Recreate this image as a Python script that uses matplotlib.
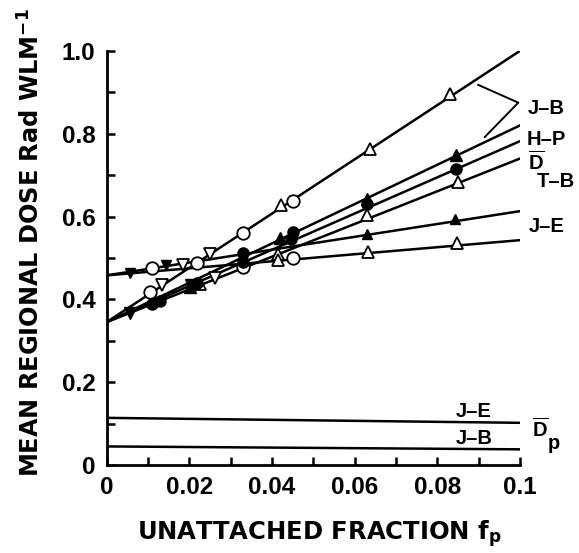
import numpy as np
import matplotlib
matplotlib.use("Agg")
from matplotlib import pyplot as plt

plt.rcParams['font.family'] = ['Liberation Sans', 'DejaVu Sans']
plt.rcParams['font.weight'] = 'bold'
plt.rcParams['mathtext.fontset'] = 'custom'
plt.rcParams['mathtext.rm'] = 'Liberation Sans:bold'
plt.rcParams['mathtext.bf'] = 'Liberation Sans:bold'
plt.rcParams['mathtext.it'] = 'Liberation Sans:bold'

# fitted lines: value at fp=0 and fp=0.1
line_names = ['J-B', 'H-P', 'mid', 'DT-B', 'J-E filled', 'J-E open']
line_y0 = [0.345, 0.345, 0.345, 0.345, 0.458, 0.458]
line_y1 = [1.0, 0.82, 0.782, 0.74, 0.613, 0.543]

# D_p lines (J-E, J-B)
dp_y0 = [0.114, 0.045]
dp_y1 = [0.102, 0.038]

# measured points
jb_circ_x = [0.0105, 0.033, 0.045]
jb_circ_y = [0.418, 0.561, 0.638]
jb_tri_x = [0.0423, 0.0637, 0.0832]
jb_tri_y = [0.627, 0.764, 0.897]
jb_inv_x = [0.0133, 0.025]
jb_inv_y = [0.434, 0.509]

hp_tri_x = [0.0202, 0.042, 0.0629, 0.0845]
hp_tri_y = [0.43, 0.548, 0.643, 0.748]
hp_inv_x = [0.0057, 0.0205]
hp_inv_y = [0.367, 0.435]

mid_circ_x = [0.0109, 0.013, 0.022, 0.033, 0.0445, 0.0452, 0.063, 0.0845]
mid_circ_y = [0.39, 0.397, 0.44, 0.49, 0.545, 0.563, 0.631, 0.716]

tb_tri_x = [0.0225, 0.0415, 0.0629, 0.0851]
tb_tri_y = [0.437, 0.51, 0.603, 0.684]
tb_inv_x = [0.0262]
tb_inv_y = [0.452]

je_ftri_x = [0.0629, 0.0843]
je_ftri_y = [0.557, 0.593]
je_finv_x = [0.0057, 0.0145]
je_finv_y = [0.464, 0.483]
je_fcirc_x = [0.033]
je_fcirc_y = [0.512]

je_otri_x = [0.0415, 0.0633, 0.0847]
je_otri_y = [0.494, 0.514, 0.535]
je_ocirc_x = [0.011, 0.0218, 0.033, 0.045]
je_ocirc_y = [0.476, 0.488, 0.478, 0.499]
je_oinv_x = [0.0185]
je_oinv_y = [0.482]

fig = plt.figure(figsize=(5.79, 5.53), dpi=100)
ax = fig.add_axes([0.184, 0.159, 0.714, 0.749])

for y0, y1 in zip(line_y0, line_y1):
    ax.plot([0, 0.1], [y0, y1], color='black', lw=1.8, zorder=2)
for y0, y1 in zip(dp_y0, dp_y1):
    ax.plot([0, 0.1], [y0, y1], color='black', lw=1.8, zorder=2)

ms = 8
def open_pts(x, y, m, s=ms):
    ax.plot(x, y, ls='none', marker=m, ms=s, mfc='white', mec='black', mew=1.3, zorder=3)
def fill_pts(x, y, m, s=ms):
    ax.plot(x, y, ls='none', marker=m, ms=s, mfc='black', mec='black', mew=1.0, zorder=4)

open_pts(jb_circ_x, jb_circ_y, 'o', 9)
open_pts(jb_tri_x, jb_tri_y, '^')
open_pts(jb_inv_x, jb_inv_y, 'v')
fill_pts(hp_tri_x, hp_tri_y, '^')
fill_pts(hp_inv_x, hp_inv_y, 'v')
fill_pts(mid_circ_x, mid_circ_y, 'o', 8)
open_pts(tb_tri_x, tb_tri_y, '^')
open_pts(tb_inv_x, tb_inv_y, 'v')
fill_pts(je_ftri_x, je_ftri_y, '^', 7)
fill_pts(je_finv_x, je_finv_y, 'v', 7)
fill_pts(je_fcirc_x, je_fcirc_y, 'o', 8)
open_pts(je_otri_x, je_otri_y, '^')
open_pts(je_ocirc_x, je_ocirc_y, 'o', 9)
open_pts(je_oinv_x, je_oinv_y, 'v')

ax.set_xlim(0, 0.1)
ax.set_ylim(0, 1.0)
for s in ['top', 'right']:
    ax.spines[s].set_visible(False)
for s in ['left', 'bottom']:
    ax.spines[s].set_linewidth(2.0)

ax.set_xticks(np.arange(0, 0.1001, 0.01))
ax.set_xticklabels(['0', '', '0.02', '', '0.04', '', '0.06', '', '0.08', '', '0.1'])
ax.set_yticks(np.arange(0, 1.001, 0.1))
ax.set_yticklabels(['0', '', '0.2', '', '0.4', '', '0.6', '', '0.8', '', '1.0'])
ax.tick_params(direction='in', length=6, width=1.8, labelsize=17.5, pad=8)

# bracket for J-B
ax.plot([0.0899, 0.0996, 0.0915], [0.918, 0.875, 0.792], color='black', lw=1.4, clip_on=False)

lab = dict(fontsize=14.5, fontweight='bold', va='center', ha='left', clip_on=False)
base = dict(fontsize=14.5, fontweight='bold', va='baseline', ha='left', clip_on=False)
ax.text(0.1019, 0.862, 'J–B', **lab)
ax.text(0.1017, 0.785, 'H–P', **lab)
ax.text(0.1020, 0.712, r'$\overline{\mathrm{D}}$', **base)
ax.text(0.1040, 0.672, 'T–B', **base)
ax.text(0.1022, 0.575, 'J–E', **lab)
ax.text(0.0889, 0.130, 'J–E', fontsize=14.5, fontweight='bold', ha='center', va='center')
ax.text(0.0889, 0.064, 'J–B', fontsize=14.5, fontweight='bold', ha='center', va='center')
ax.text(0.1030, 0.068, r'$\overline{\mathrm{D}}$', **base)
ax.text(0.1066, 0.040, 'p', **base)

fig.text(0.552, 0.033, r'UNATTACHED FRACTION f$_{\mathregular{p}}$', fontsize=17.5,
         family='DejaVu Sans', fontweight='bold', ha='center', va='center')
fig.text(0.052, 0.5615, r'MEAN REGIONAL DOSE Rad WLM$^{\mathregular{-1}}$', fontsize=17.3,
         family='DejaVu Sans', fontweight='bold', ha='center', va='center', rotation=90)

fig.savefig('out.png', dpi=100)
